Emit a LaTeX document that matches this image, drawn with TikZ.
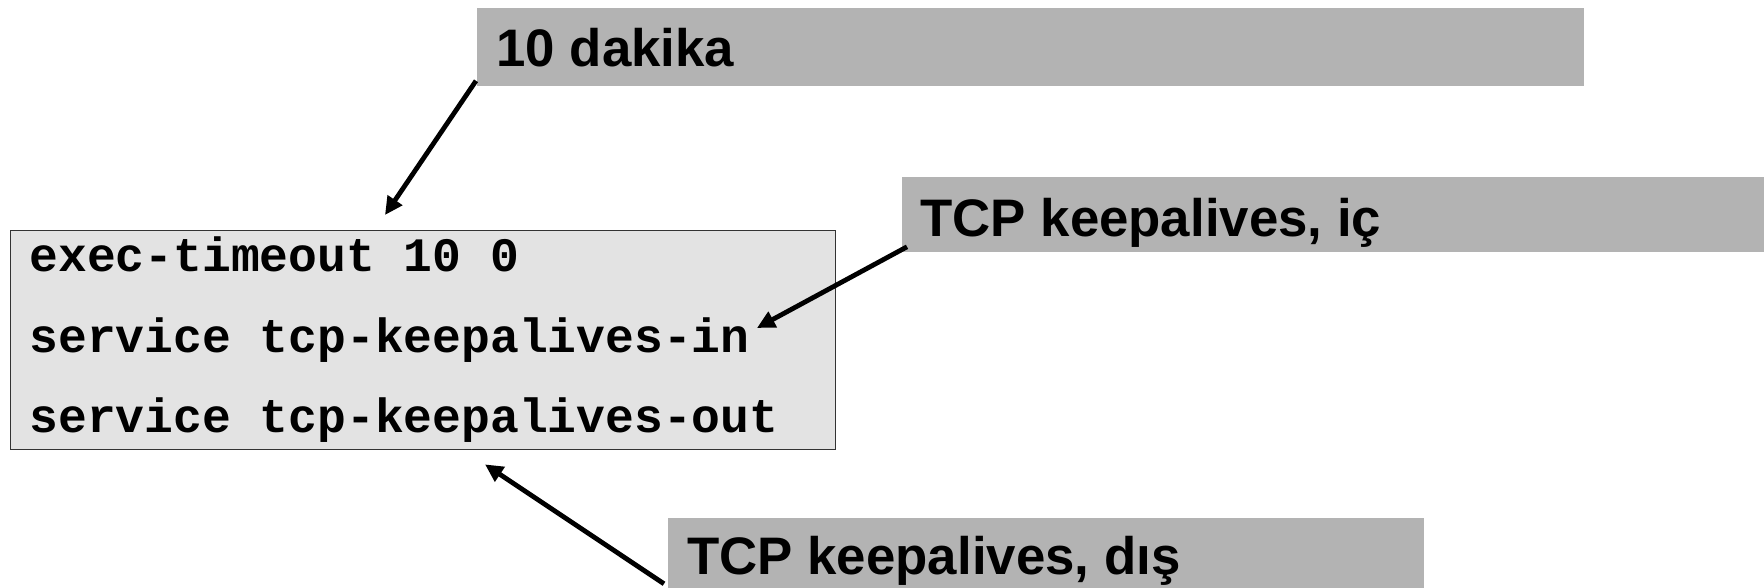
\documentclass[tikz,border=0pt]{standalone}
\usepackage{fontspec}
\setmainfont{Liberation Sans}
\setmonofont{Liberation Mono}
\usetikzlibrary{calc,arrows.meta}
\definecolor{lblgray}{HTML}{B3B3B3}
\definecolor{codegray}{HTML}{E3E3E3}
\definecolor{codeedge}{HTML}{333333}
\tikzset{
  graybox/.style={fill=lblgray, draw=none, anchor=north west, inner sep=0pt},
  codebox/.style={fill=codegray, draw=codeedge, line width=0.7pt, anchor=north west, inner sep=0pt},
  lbltext/.style={anchor=base west, inner sep=0pt, font=\fontsize{26.4}{30}\selectfont\bfseries},
  codetext/.style={anchor=base west, inner sep=0pt, font=\fontsize{24}{28}\selectfont\ttfamily\bfseries},
  pointer/.style={line width=2.4pt, -{Triangle[length=9pt,width=8.5pt]}}
}
\begin{document}
\begin{tikzpicture}[x=0.5pt,y=-0.5pt]
\useasboundingbox (0,0) rectangle (1764,588);
% label boxes
\node[graybox, minimum width=553.5pt, minimum height=39pt] (b1) at (477,8) {};
\node[lbltext] (t1) at (496,67) {10 dakika};
\node[graybox, minimum width=431pt, minimum height=37.5pt] (b2) at (902,177) {};
\node[lbltext] (t2) at (920,236) {TCP keepalives, iç};
\node[graybox, minimum width=378pt, minimum height=35pt] (b3) at (668,518) {};
\node[lbltext] (t3) at (687,574) {TCP keepalives, dış};
% code box
\node[codebox, minimum width=412.5pt, minimum height=109.5pt] (code) at (10,230) {};
\node[codetext] (c1) at (29,271) {exec-timeout 10 0};
\node[codetext] (c2) at (29,352) {service tcp-keepalives-in};
\node[codetext] (c3) at (29,432) {service tcp-keepalives-out};
% arrow targets
\coordinate (e1) at ($(code.north west)+(375,-15)$);
\coordinate (e2) at ($(c2.base east)+(7,-24)$);
\coordinate (e3) at ($(code.south west)+(475,14)$);
\draw[pointer] ($(b1.south west)+(-1,-6)$) -- (e1);
\draw[pointer] ($(b2.south west)+(5,-6)$) -- (e2);
\draw[pointer] ($(b3.south west)+(-4,-5)$) -- (e3);
\end{tikzpicture}
\end{document}
